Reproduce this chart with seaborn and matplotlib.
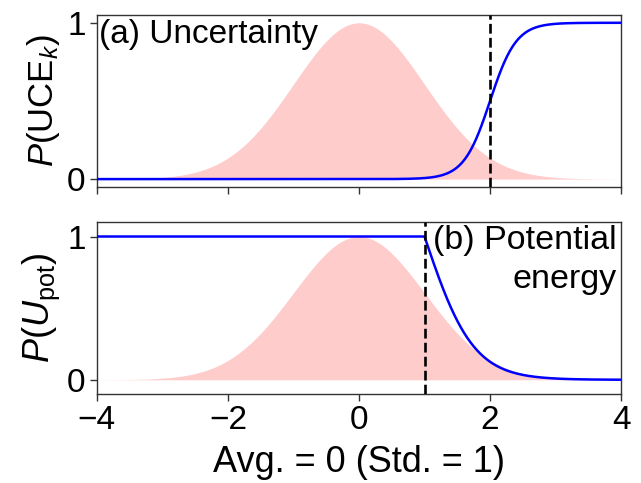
import numpy as np
import pandas as pd
import matplotlib
matplotlib.use("Agg")
import matplotlib.pyplot as plt
import seaborn as sns

# ---- data / parameters ----
x_range = [-4, 4]
avg = 0.0
std = 1.0
uce_threshold = 2.0      # centre of the uncertainty sigmoid, dashed line (a)
uce_steepness = 5.0
pot_threshold = 1.0      # onset of potential-energy decay, dashed line (b)
pot_steepness = 2.7
panel_labels = ["(a) Uncertainty", "(b) Potential\nenergy"]
ylabels = [r"$P(\mathrm{UCE}_k)$", r"$P(U_\mathrm{pot})$"]
xlabel = "Avg. = 0 (Std. = 1)"
xticks = [-4, -2, 0, 2, 4]
yticks = [0, 1]

x = np.linspace(x_range[0], x_range[1], 801)
gauss = np.exp(-0.5 * ((x - avg) / std) ** 2)
p_uce = 1.0 / (1.0 + np.exp(-uce_steepness * (x - uce_threshold)))
p_pot = np.where(x <= pot_threshold, 1.0,
                 2.0 / (1.0 + np.exp(pot_steepness * (x - pot_threshold))))

df = pd.DataFrame({"x": x, "gauss": gauss, "uce": p_uce, "pot": p_pot})

# ---- style ----
sns.set_theme(style="ticks")
plt.rcParams["font.family"] = ["Liberation Sans", "DejaVu Sans"]
plt.rcParams["mathtext.fontset"] = "custom"
plt.rcParams["mathtext.rm"] = "Liberation Sans"
plt.rcParams["mathtext.it"] = "Liberation Sans:italic"
plt.rcParams["mathtext.bf"] = "Liberation Sans:bold"
plt.rcParams["axes.unicode_minus"] = True
plt.rcParams["text.color"] = "black"
plt.rcParams["axes.labelcolor"] = "black"
plt.rcParams["xtick.color"] = "black"
plt.rcParams["ytick.color"] = "black"

fig = plt.figure(figsize=(6.41, 4.83), dpi=100)
ax1 = fig.add_axes([0.151, 0.613, 0.818, 0.356])
ax2 = fig.add_axes([0.151, 0.184, 0.818, 0.356], sharex=ax1)

pink = "#ffcccc"
for ax, col, thr, ylab, ylim, ysize in [
    (ax1, "uce", uce_threshold, ylabels[0], (-0.05, 1.05), 25),
    (ax2, "pot", pot_threshold, ylabels[1], (-0.1, 1.1), 26),
]:
    ax.fill_between(df["x"], 0, df["gauss"], color=pink, linewidth=0, zorder=1)
    sns.lineplot(data=df, x="x", y=col, ax=ax, color="blue", linewidth=1.8, zorder=3)
    ax.axvline(thr, color="black", linestyle="--", linewidth=1.9, zorder=4)
    ax.set_ylim(*ylim)
    ax.set_xlim(*x_range)
    ax.set_yticks(yticks)
    ax.set_ylabel(ylab, fontsize=ysize, labelpad=4)
    ax.set_xlabel("")
    for s in ax.spines.values():
        s.set_linewidth(1.0)
        s.set_color("#333333")
        s.set_visible(True)
    ax.tick_params(axis="both", labelsize=24, length=5, width=1.0, color="#333333",
                   labelcolor="black", pad=3)

ax1.set_xticks(xticks)
ax1.tick_params(axis="x", labelbottom=False)
ax2.set_xlabel(xlabel, fontsize=26, labelpad=6)

ax1.text(0.005, 0.975, panel_labels[0], transform=ax1.transAxes,
         ha="left", va="top", fontsize=24)
ax2.text(0.992, 0.985, panel_labels[1], transform=ax2.transAxes,
         ha="right", va="top", fontsize=24.5, multialignment="right", linespacing=1.35)

fig.savefig("out.png", dpi=100)
